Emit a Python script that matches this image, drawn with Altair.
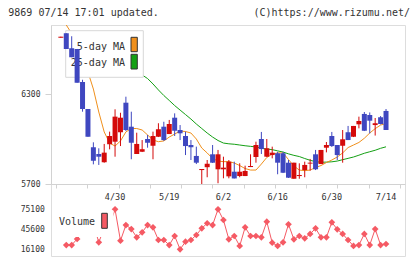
import altair as alt
import numpy as np
import pandas as pd

# Daily candles for 9869, oldest first (index = trading day)
opens = [6675, 6705, 6605, 6600, 6380, 6200, 5945, 5900, 5845, 5965,
         5982, 6045, 6242, 6082, 5900, 5915, 6000, 5955, 6015, 6082,
         6033, 6142, 6060, 6020, 5960, 5887, 5793, 5812, 5898, 5798,
         5798, 5751, 5782, 5753, 5753, 5813, 5880, 6000, 5882, 5893,
         5905, 5905, 5842, 5735, 5753, 5793, 5836, 5898, 5833, 5942,
         6020, 5960, 5955, 6045, 6015, 6098, 6167, 6160, 6093, 6145,
         6187]
highs = [6682, 6705, 6685, 6600, 6395, 6200, 5978, 5938, 5967, 6049,
         6198, 6175, 6282, 6182, 6042, 5993, 6027, 6049, 6105, 6115,
         6127, 6171, 6093, 6049, 5993, 5949, 5800, 5860, 5960, 5927,
         5882, 5860, 5849, 5838, 5822, 5898, 5982, 6047, 6000, 5949,
         5915, 5915, 5860, 5842, 5838, 5849, 5867, 5927, 5927, 5980,
         6047, 5960, 6060, 6087, 6087, 6149, 6180, 6177, 6140, 6153,
         6200]
lows = [6675, 6600, 6545, 6375, 6182, 6015, 5831, 5827, 5842, 5931,
        5882, 5953, 6053, 5865, 5900, 5913, 5942, 5865, 6013, 5987,
        6033, 6020, 5993, 5893, 5860, 5833, 5700, 5745, 5840, 5705,
        5738, 5738, 5737, 5745, 5753, 5813, 5842, 5900, 5880, 5871,
        5765, 5773, 5740, 5735, 5735, 5745, 5789, 5793, 5833, 5911,
        5947, 5860, 5842, 5993, 6013, 6071, 6053, 6037, 6023, 6097,
        6060]
closes = [6682, 6600, 6545, 6375, 6200, 6015, 5855, 5882, 5909, 6020,
          6149, 6142, 6060, 5975, 5967, 5932, 5975, 6020, 6065, 5993,
          6100, 6055, 6038, 5953, 5945, 5842, 5800, 5835, 5842, 5898,
          5809, 5849, 5737, 5782, 5787, 5820, 5960, 5933, 5938, 5909,
          5842, 5775, 5742, 5842, 5760, 5827, 5842, 5798, 5927, 5960,
          5953, 5893, 5998, 5993, 6087, 6120, 6055, 6122, 6105, 6100,
          6060]

# Moving averages
ma5 = [None, 6760, 6703, 6627, 6540, 6447, 6333, 6180, 6047, 5973,
       5953, 5987, 6047, 6070, 6070, 6060, 6027, 5993, 5982, 5987,
       6013, 6033, 6053, 6050, 6040, 6000, 5940, 5907, 5870, 5853,
       5849, 5849, 5840, 5823, 5803, 5793, 5793, 5833, 5877, 5900,
       5907, 5907, 5863, 5820, 5793, 5789, 5793, 5810, 5823, 5843,
       5860, 5880, 5907, 5943, 5960, 5977, 6005, 6040, 6069, 6093,
       6103]
ma25 = [None, 6680, 6667, 6653, 6637, 6620, 6603, 6587, 6567, 6547,
        6527, 6507, 6487, 6467, 6447, 6427, 6403, 6367, 6327, 6290,
        6257, 6223, 6193, 6163, 6133, 6100, 6070, 6040, 6013, 5990,
        5973, 5968, 5965, 5960, 5955, 5951, 5947, 5938, 5933, 5929,
        5921, 5913, 5901, 5891, 5883, 5870, 5858, 5849, 5845, 5846,
        5848, 5853, 5862, 5871, 5880, 5892, 5905, 5915, 5925, 5938,
        5948]

# Daily volume
volume = [None, 22400, 22400, 31300, 40000, 43000, 54000, 26400, 47500, 52000,
          75000, 28800, 51900, 46000, 33800, 41200, 51900, 48500, 29800, 29800,
          22400, 35700, 16100, 27300, 29800, 37200, 47100, 54500, 51900, 75100,
          59300, 30850, 35700, 21000, 48500, 35700, 35700, 33800, 56800, 25800,
          21000, 26400, 53000, 30850, 35700, 32300, 38700, 47100, 33800, 33800,
          55900, 45600, 38700, 29800, 21000, 22400, 38700, 22400, 46000, 22400,
          23900]

label_days = [10, 20, 30, 40, 50, 60]
label_text = ["4/30", "5/19", "6/2", "6/16", "6/30", "7/14"]
vol_ticks = [16100, 45600, 75100]
price_ticks = [5700, 6300]

RED, BLUE = "#d40a0a", "#3f47c0"
ORANGE, GREEN = "#f0901c", "#14a014"
VOLC = "#f55a64"
GREY = "#d2d2d2"
TXT = "#333333"
FONT = "DejaVu Sans Mono"

df = pd.DataFrame({"day": list(range(len(opens))), "open": opens, "high": highs,
                   "low": lows, "close": closes, "ma5": ma5, "ma25": ma25,
                   "vol": volume})
df["dir"] = np.where(df["close"] >= df["open"], "up", "down")
labels_df = pd.DataFrame({"day": label_days, "txt": label_text})

W, H = 354, 231
x_dom = [-0.8966, 62.58]
x_ticks = [float(v) for v in np.linspace(x_dom[0], x_dom[1], 12)]
x_enc = alt.X("day:Q", scale=alt.Scale(domain=x_dom, nice=False, zero=False),
              axis=alt.Axis(values=x_ticks, labels=False, title=None, grid=False,
                            domainColor=GREY, tickColor=GREY, tickSize=4,
                            offset=-72, orient="bottom"))

p_scale = alt.Scale(domain=[5700, 6760], range=[159, 0], nice=False, zero=False)
p_axis = alt.Axis(values=price_ticks, format="d", title=None, grid=False,
                  domainColor=GREY, tickColor=GREY, tickSize=6, labelPadding=5,
                  labelFontSize=8, labelColor=TXT, labelFont=FONT, orient="left")
v_scale = alt.Scale(domain=[16100, 75100], range=[224.3, 184.3], nice=False, zero=False)
v_axis = alt.Axis(values=vol_ticks, format="d", title=None, grid=False, domain=False,
                  ticks=False, labelPadding=6.7, labelFontSize=8, labelColor=TXT,
                  labelFont=FONT, orient="left")

base = alt.Chart(df)
dir_color = alt.Color("dir:N", scale=alt.Scale(domain=["up", "down"], range=[RED, BLUE]),
                      legend=None)

ma25_line = base.mark_line(color=GREEN, strokeWidth=1).encode(
    x=x_enc, y=alt.Y("ma25:Q", scale=p_scale, axis=p_axis))
ma5_line = base.mark_line(color=ORANGE, strokeWidth=1).encode(
    x=x_enc, y=alt.Y("ma5:Q", scale=p_scale, axis=p_axis))

# legend for the moving averages
one = pd.DataFrame({"k": [0]})
leg_box = alt.Chart(one).mark_rect(fill="white", stroke="#d8d8d8", strokeWidth=1).encode(
    x=alt.value(14.7), x2=alt.value(92.3), y=alt.value(5.7), y2=alt.value(52.3))
leg_t1 = alt.Chart(pd.DataFrame({"t": ["5-day MA"]})).mark_text(
    align="right", baseline="middle", fontSize=10, font=FONT, color=TXT).encode(
    x=alt.value(74), y=alt.value(21.7), text="t:N")
leg_t2 = alt.Chart(pd.DataFrame({"t": ["25-day MA"]})).mark_text(
    align="right", baseline="middle", fontSize=10, font=FONT, color=TXT).encode(
    x=alt.value(74), y=alt.value(38.3), text="t:N")
sw1 = alt.Chart(one).mark_rect(fill=ORANGE, stroke=TXT, strokeWidth=1).encode(
    x=alt.value(80), x2=alt.value(86.3), y=alt.value(12.3), y2=alt.value(26.7))
sw2 = alt.Chart(one).mark_rect(fill=GREEN, stroke=TXT, strokeWidth=1).encode(
    x=alt.value(80), x2=alt.value(86.3), y=alt.value(29.3), y2=alt.value(44))

wicks = base.mark_rule(strokeWidth=1).encode(
    x=x_enc, y=alt.Y("low:Q", scale=p_scale, axis=p_axis), y2="high:Q", color=dir_color)
bodies = base.mark_bar(size=5).encode(
    x=x_enc, y=alt.Y("open:Q", scale=p_scale, axis=p_axis), y2="close:Q", color=dir_color)

x_labels = alt.Chart(labels_df).mark_text(
    align="center", baseline="middle", fontSize=8.5, font=FONT, color=TXT).encode(
    x=x_enc, y=alt.value(172.3), text="txt:N")

head_l = alt.Chart(pd.DataFrame({"t": ["9869 07/14 17:01 updated."]})).mark_text(
    align="left", baseline="middle", fontSize=10, font=FONT, color=TXT).encode(
    x=alt.value(-42.7), y=alt.value(-12.3), text="t:N")
head_r = alt.Chart(pd.DataFrame({"t": ["(C)https://www.rizumu.net/"]})).mark_text(
    align="right", baseline="middle", fontSize=10, font=FONT, color=TXT).encode(
    x=alt.value(359), y=alt.value(-12.3), text="t:N")

price = alt.layer(ma25_line, ma5_line, leg_box, leg_t1, leg_t2, sw1, sw2,
                  wicks, bodies, x_labels, head_l, head_r)

vol_line = base.mark_line(color=VOLC, strokeWidth=1).encode(
    x=x_enc, y=alt.Y("vol:Q", scale=v_scale, axis=v_axis))
vol_pts = base.mark_point(shape="diamond", filled=True, size=45, opacity=1,
                          color=VOLC).encode(
    x=x_enc, y=alt.Y("vol:Q", scale=v_scale, axis=v_axis))
vol_bg = alt.Chart(one).mark_rect(fill="white").encode(
    x=alt.value(2), x2=alt.value(62.5), y=alt.value(185.5), y2=alt.value(212))
vol_t = alt.Chart(pd.DataFrame({"t": ["Volume"]})).mark_text(
    align="right", baseline="middle", fontSize=10, font=FONT, color=TXT).encode(
    x=alt.value(44), y=alt.value(197), text="t:N")
vol_sw = alt.Chart(one).mark_rect(fill=VOLC, stroke=TXT, strokeWidth=1).encode(
    x=alt.value(50.7), x2=alt.value(56.3), y=alt.value(188.3), y2=alt.value(203.3))

vol = alt.layer(vol_line, vol_pts, vol_bg, vol_t, vol_sw)

chart = (
    alt.layer(price, vol)
    .resolve_scale(y="independent")
    .properties(width=W, height=H, autosize=alt.AutoSizeParams(type="none"),
                padding={"left": 51, "top": 25, "right": 15, "bottom": 3},
                background="white")
    .configure_view(strokeWidth=0)
    .configure(font=FONT)
)

chart.save("out.html", embed_options={"renderer": "svg", "actions": False})
